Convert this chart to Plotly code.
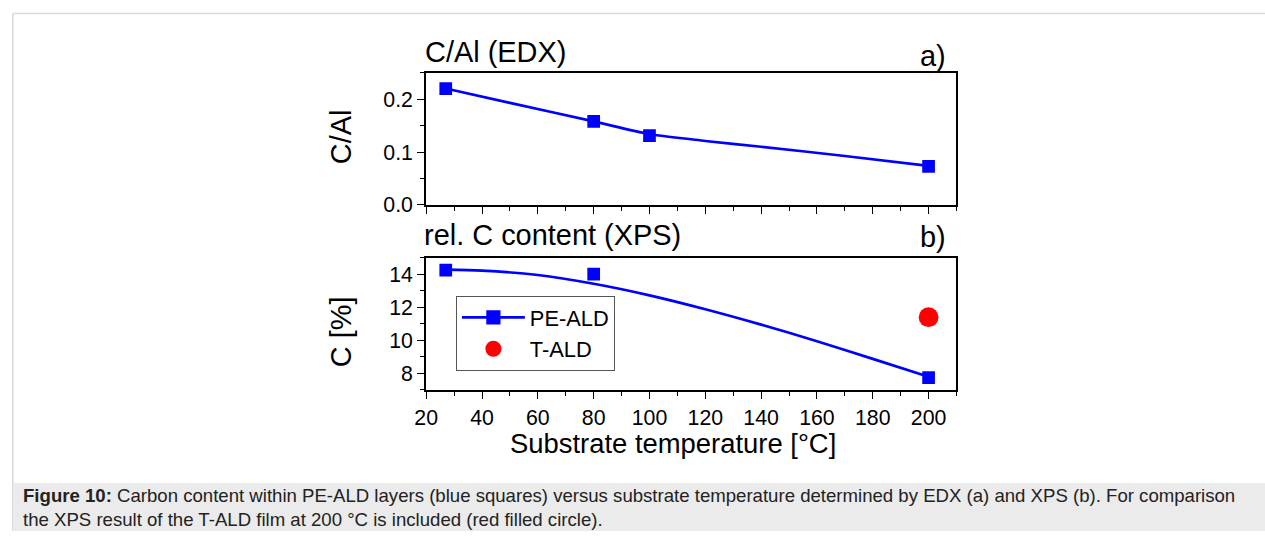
import plotly.graph_objects as go

# ---- data -------------------------------------------------------------
# (a) EDX: C/Al ratio of PE-ALD layers
temp_edx = [27, 80, 100, 200]
c_al_edx = [0.220, 0.158, 0.131, 0.073]
# guide curve through the EDX values
edx_curve_x = [27, 50, 80, 100, 120, 140, 170, 200]
edx_curve_y = [0.220, 0.193, 0.158, 0.134, 0.121, 0.110, 0.0925, 0.074]

# (b) XPS: relative carbon content [%]
temp_xps = [27, 80, 200]
c_pe_ald = [14.25, 14.0, 7.75]
temp_t_ald = [200]
c_t_ald = [11.4]
# fitted trend of the PE-ALD series
xps_fit_x = [27, 40, 60, 80, 100, 120, 140, 160, 180, 200]
xps_fit_y = [14.28, 14.22, 13.95, 13.42, 12.72, 11.88, 10.95, 9.95, 8.88, 7.80]

x_ticks = [20, 40, 60, 80, 100, 120, 140, 160, 180, 200]

caption_line1 = ("<b>Figure 10:</b> Carbon content within PE-ALD layers (blue squares) versus "
                 "substrate temperature determined by EDX (a) and XPS (b). For comparison")
caption_line2 = "the XPS result of the T-ALD film at 200 °C is included (red filled circle)."

# ---- geometry helpers ---------------------------------------------------
W, H = 1265, 543
SX, OX = 0.99, 12.0    # horizontal layout scale / inset
SY = 0.978             # vertical layout scale


def X(x):
    """layout pixel -> paper fraction (horizontal)"""
    return ((x - OX) / SX) / W


def Y(y):
    """layout pixel (from top) -> paper fraction (vertical)"""
    return 1 - (y / SY) / H


def F(v):
    """layout size -> figure size"""
    return v / 0.985


FONT = "Liberation Sans, Arial, sans-serif"
BLUE = "#0000ff"
RED = "#ff0000"

fig = go.Figure()

# panel (a)
fig.add_trace(go.Scatter(x=edx_curve_x, y=edx_curve_y, mode="lines",
                         line=dict(color=BLUE, width=F(2.6), shape="spline", smoothing=0.8),
                         xaxis="x", yaxis="y", showlegend=False, hoverinfo="skip"))
fig.add_trace(go.Scatter(x=temp_edx, y=c_al_edx, mode="markers",
                         marker=dict(symbol="square", size=F(12.5), color=BLUE),
                         xaxis="x", yaxis="y", showlegend=False))

# panel (b)
fig.add_trace(go.Scatter(x=xps_fit_x, y=xps_fit_y, mode="lines",
                         line=dict(color=BLUE, width=F(2.6), shape="spline", smoothing=0.8),
                         xaxis="x2", yaxis="y2", showlegend=False, hoverinfo="skip"))
fig.add_trace(go.Scatter(x=temp_xps, y=c_pe_ald, mode="markers",
                         marker=dict(symbol="square", size=F(12.5), color=BLUE),
                         xaxis="x2", yaxis="y2", showlegend=False))
# legend entry: line with square symbol
fig.add_trace(go.Scatter(x=[None], y=[None], mode="lines+markers", name="PE-ALD",
                         line=dict(color=BLUE, width=F(2.6)),
                         marker=dict(symbol="square", size=F(14), color=BLUE),
                         xaxis="x2", yaxis="y2"))
fig.add_trace(go.Scatter(x=temp_t_ald, y=c_t_ald, mode="markers", name="T-ALD",
                         marker=dict(symbol="circle", size=F(19.5), color=RED),
                         xaxis="x2", yaxis="y2"))

axis_common = dict(
    showline=True, linecolor="black", linewidth=1.5, mirror=True,
    ticks="outside", ticklen=F(7.2), tickwidth=1.3, tickcolor="black",
    showgrid=False, zeroline=False,
    tickfont=dict(family=FONT, size=F(21), color="black"),
)
minor_x = dict(ticks="outside", ticklen=F(4), tickwidth=1.2, tickcolor="black", dtick=10,
               showgrid=False)

x_dom = [X(426), X(956)]

fig.update_layout(
    width=W, height=H,
    margin=dict(l=0, r=0, t=0, b=0),
    paper_bgcolor="white", plot_bgcolor="white",
    font=dict(family=FONT, color="black"),
    xaxis=dict(domain=x_dom, anchor="y", range=[20, 210], tickvals=x_ticks,
               showticklabels=False, minor=minor_x, **axis_common),
    yaxis=dict(domain=[Y(205), Y(72.7)], anchor="x", range=[0, 0.25],
               tickvals=[0.0, 0.1, 0.2], ticktext=["0.0", "0.1", "0.2"],
               minor=dict(ticks="outside", ticklen=F(4), tickwidth=1.2, tickcolor="black",
                          dtick=0.05, showgrid=False),
               **axis_common),
    xaxis2=dict(domain=x_dom, anchor="y2", range=[20, 210], tickvals=x_ticks,
                minor=minor_x, **axis_common),
    yaxis2=dict(domain=[Y(390), Y(257.7)], anchor="x2", range=[7, 15],
                tickvals=[8, 10, 12, 14],
                minor=dict(ticks="outside", ticklen=F(4), tickwidth=1.2, tickcolor="black",
                           dtick=1, showgrid=False),
                **axis_common),
    legend=dict(x=X(455.7), y=Y(295.7), xanchor="left", yanchor="top",
                bordercolor="#555555", borderwidth=1, bgcolor="white",
                font=dict(family=FONT, size=F(21.5), color="black"),
                itemwidth=F(62), tracegroupgap=0),
    showlegend=True,
)

# page frame and caption box
fig.add_shape(type="line", xref="paper", yref="paper", x0=0.0006, x1=1, y0=Y(13.5), y1=Y(13.5),
              line=dict(color="#d9d9d9", width=1.5), layer="below")
fig.add_shape(type="line", xref="paper", yref="paper", x0=0.0006, x1=0.0006, y0=0, y1=Y(13.5),
              line=dict(color="#d9d9d9", width=1.5), layer="below")
fig.add_shape(type="rect", xref="paper", yref="paper", x0=0.0012, x1=1, y0=0, y1=Y(483),
              fillcolor="#ebebeb", line=dict(width=0), layer="below")

annotations = [
    dict(text="C/Al (EDX)", x=X(423), y=Y(52), xanchor="left", size=28.5),
    dict(text="a)", x=X(948), y=Y(56), xanchor="right", size=28.5),
    dict(text="rel. C content (XPS)", x=X(422), y=Y(235), xanchor="left", size=28.5),
    dict(text="b)", x=X(948), y=Y(237), xanchor="right", size=28.5),
    dict(text="C/Al", x=X(341), y=Y(137), xanchor="center", size=28.5, angle=-90),
    dict(text="C [%]", x=X(341), y=Y(332), xanchor="center", size=28.5, angle=-90),
    dict(text="Substrate temperature [°C]", x=X(673), y=Y(443.5), xanchor="center", size=27),
]
for a in annotations:
    fig.add_annotation(text=a["text"], x=a["x"], y=a["y"], xref="paper", yref="paper",
                       xanchor=a["xanchor"], yanchor="middle", showarrow=False,
                       textangle=a.get("angle", 0),
                       font=dict(family=FONT, size=F(a["size"]), color="black"))

# two-line figure caption at the foot of the page
fig.add_annotation(text=caption_line1 + "<br>" + caption_line2, x=X(22), y=0,
                   xref="paper", yref="paper", xanchor="left", yanchor="bottom", align="left",
                   showarrow=False, borderpad=0,
                   font=dict(family=FONT, size=18.6, color="#222222"))

fig.write_html("out.html")

# drop the browser's default body margin so the figure sits at the page origin
with open("out.html", encoding="utf-8") as fh:
    page = fh.read()
page = page.replace("<head>", "<head><style>html,body{margin:0;padding:0;overflow:hidden}</style>", 1)
with open("out.html", "w", encoding="utf-8") as fh:
    fh.write(page)
